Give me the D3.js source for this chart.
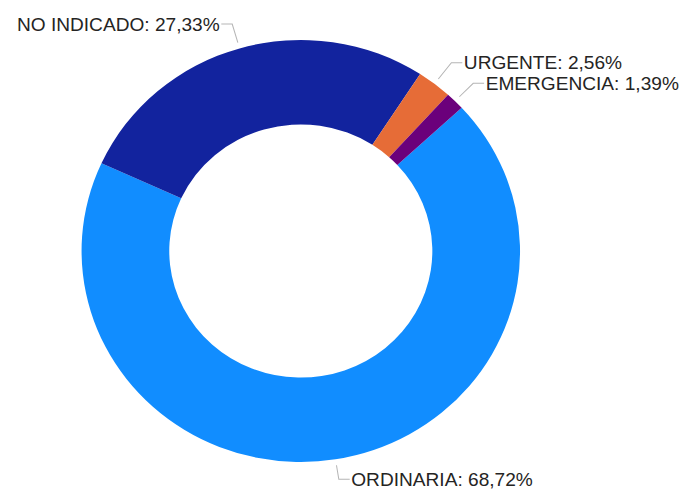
<!DOCTYPE html>
<html>
<head>
<meta charset="utf-8">
<script src="https://cdn.jsdelivr.net/npm/d3@7"></script>
<style>
  html, body { margin: 0; padding: 0; background: #ffffff; }
  svg { display: block; }
  text { font-family: "Liberation Sans", Arial, sans-serif; }
</style>
</head>
<body>
<svg id="chart" width="686" height="494"></svg>
<script>
// Share of cases by priority type (%)
const categories = ["ORDINARIA", "NO INDICADO", "URGENTE", "EMERGENCIA"];
const values = [68.72, 27.33, 2.56, 1.39];
const colors = ["#118DFF", "#12239E", "#E66C37", "#6B007B"];
// vertical position of each label's leader elbow
const labelY = [479.3, 24, 62.7, 83.3];

const fmt = v => v.toFixed(2).replace(".", ",") + "%";

const W = 686, H = 494;
const sx = 1.039;               // horizontal stretch of the drawing
const cx = 300.8 / sx, cy = 251;
const rOuter = 211, rInner = rOuter * 0.6;
const startDeg = 47.2;

const svg = d3.select("#chart");
const g = svg.append("g").attr("transform", `scale(${sx},1)`);

const data = categories.map((c, i) => ({ name: c, value: values[i], color: colors[i], ly: labelY[i] }));

const pie = d3.pie()
  .value(d => d.value)
  .sort(null)
  .startAngle(startDeg * Math.PI / 180)
  .endAngle(startDeg * Math.PI / 180 + 2 * Math.PI);

const arc = d3.arc().innerRadius(rInner).outerRadius(rOuter);
const arcs = pie(data);

const donut = g.append("g").attr("transform", `translate(${cx},${cy})`);
donut.selectAll("path")
  .data(arcs)
  .join("path")
  .attr("d", arc)
  .attr("fill", d => d.data.color);

// leader lines and labels
const labels = g.append("g");
arcs.forEach(a => {
  const mid = (a.startAngle + a.endAngle) / 2;
  const s = Math.sin(mid), c = Math.cos(mid);
  const r0 = rOuter + 6;
  const p0 = [cx + r0 * s, cy - r0 * c];
  const t = (cy - a.data.ly) / c;
  const p1 = [cx + t * s, a.data.ly];
  const dir = s >= 0 ? 1 : -1;
  const p2 = [p1[0] + dir * 10.5, a.data.ly];

  labels.append("polyline")
    .attr("points", [p0, p1, p2].map(p => p.join(",")).join(" "))
    .attr("fill", "none")
    .attr("stroke", "#b5b5b5")
    .attr("stroke-width", 1);

  labels.append("text")
    .attr("x", p2[0] + dir * 1.5)
    .attr("y", a.data.ly + 6.6)
    .attr("text-anchor", dir > 0 ? "start" : "end")
    .attr("font-size", "18.4px")
    .attr("fill", "#252423")
    .text(`${a.data.name}: ${fmt(a.data.value)}`);
});
</script>
</body>
</html>
